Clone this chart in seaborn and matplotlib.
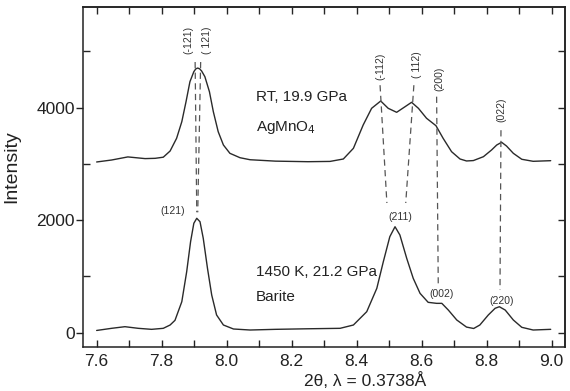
import numpy as np
import pandas as pd
import matplotlib
matplotlib.use("Agg")
import matplotlib.pyplot as plt
import seaborn as sns
from matplotlib.ticker import MultipleLocator, NullFormatter

# ---------------- data ----------------
agmno4_x = [7.600, 7.646, 7.696, 7.749, 7.780, 7.805, 7.826, 7.846, 7.862, 7.875,
            7.887, 7.899, 7.905, 7.911, 7.917, 7.923, 7.933, 7.947, 7.959, 7.974,
            7.990, 8.010, 8.041, 8.072, 8.150, 8.250, 8.318, 8.359, 8.390, 8.420,
            8.446, 8.474, 8.497, 8.523, 8.549, 8.569, 8.590, 8.615, 8.644, 8.666,
            8.692, 8.718, 8.738, 8.759, 8.790, 8.815, 8.831, 8.846, 8.861, 8.882,
            8.908, 8.943, 8.997]
agmno4_y = [3035, 3070, 3125, 3095, 3100, 3120, 3230, 3456, 3751, 4107,
            4462, 4640, 4690, 4705, 4690, 4652, 4551, 4284, 3929, 3573,
            3337, 3189, 3111, 3075, 3050, 3040, 3045, 3088, 3278, 3692,
            3989, 4119, 3989, 3918, 4018, 4096, 3989, 3812, 3680, 3456,
            3218, 3088, 3053, 3060, 3129, 3248, 3337, 3385, 3319, 3189,
            3083, 3047, 3058]

barite_x = [7.600, 7.646, 7.687, 7.728, 7.769, 7.805, 7.826, 7.841, 7.862, 7.877,
            7.889, 7.899, 7.908, 7.918, 7.928, 7.941, 7.954, 7.969, 7.990, 8.021,
            8.072, 8.150, 8.250, 8.349, 8.390, 8.431, 8.462, 8.482, 8.502, 8.518,
            8.533, 8.554, 8.574, 8.595, 8.620, 8.646, 8.662, 8.682, 8.708, 8.738,
            8.760, 8.779, 8.805, 8.826, 8.839, 8.857, 8.882, 8.908, 8.943, 8.997]
barite_y = [40, 78, 107, 78, 60, 78, 137, 220, 551, 1084,
            1618, 1945, 2034, 1973, 1678, 1145, 670, 315, 137, 66,
            48, 60, 70, 78, 137, 374, 789, 1262, 1707, 1884,
            1737, 1322, 967, 700, 540, 522, 522, 403, 226, 100,
            75, 137, 315, 434, 462, 403, 226, 96, 48, 60]

# reflection markers: label, label position (x, y), line top (x, y), line bottom (x, y)
upper_labels = ["(-121)", "( 121)", "(-112)", "( 112)", "(200)", "(022)"]
upper_label_x = [7.881, 7.939, 8.472, 8.585, 8.654, 8.846]
upper_label_y = [5204, 5204, 4741, 4760, 4510, 3960]
line_x_top = [7.903, 7.920, 8.472, 8.576, 8.646, 8.844]
line_y_top = [4812, 4812, 4400, 4400, 4196, 3600]
line_x_bot = [7.908, 7.911, 8.493, 8.551, 8.651, 8.841]
line_y_bot = [2141, 2141, 2306, 2306, 878, 759]

lower_labels = ["(121)", "(211)", "(002)", "(220)"]
lower_label_x = [7.833, 8.533, 8.662, 8.846]
lower_label_y = [2169, 2062, 688, 569]

xticks = [7.6, 7.8, 8.0, 8.2, 8.4, 8.6, 8.8, 9.0]
yticks = [0, 2000, 4000]

# ---------------- plotting ----------------
sns.set_style("ticks")
plt.rcParams["font.family"] = ["Liberation Sans", "DejaVu Sans"]

fig = plt.figure(figsize=(5.70, 3.91), dpi=100)
ax = fig.add_axes([83 / 570, 1 - 347 / 391, (565 - 83) / 570, (347 - 7) / 391])

df = pd.concat([
    pd.DataFrame({"x": agmno4_x, "y": agmno4_y, "s": "AgMnO4"}),
    pd.DataFrame({"x": barite_x, "y": barite_y, "s": "Barite"}),
])
sns.lineplot(data=df, x="x", y="y", units="s", estimator=None, color="#2a2a2a",
             lw=1.0, ax=ax, legend=False, sort=False)

for xt, yt, xb, yb in zip(line_x_top, line_y_top, line_x_bot, line_y_bot):
    ax.plot([xt, xb], [yt, yb], ls=(0, (5, 3.5)), color="#555555", lw=0.9)

for lab, x, y in zip(upper_labels, upper_label_x, upper_label_y):
    ax.text(x, y, lab, rotation=90, ha="center", va="center", fontsize=7.5, color="#333333")
for lab, x, y in zip(lower_labels, lower_label_x, lower_label_y):
    ax.text(x, y, lab, ha="center", va="center", fontsize=7.5, color="#333333")

ax.text(8.090, 4190, "RT, 19.9 GPa", fontsize=11, va="center", ha="left", color="#222222")
ax.text(8.090, 3640, "AgMnO$_4$", fontsize=11, va="center", ha="left", color="#222222")
ax.text(8.090, 1079, "1450 K, 21.2 GPa", fontsize=11, va="center", ha="left", color="#222222")
ax.text(8.090, 635, "Barite", fontsize=11, va="center", ha="left", color="#222222")

ax.set_xlim(7.558, 9.041)
ax.set_ylim(-254, 5790)

ax.set_xticks(xticks)
ax.set_xticklabels([f"{v:.1f}" for v in xticks])
ax.xaxis.set_minor_locator(MultipleLocator(0.1))
ax.set_yticks(yticks)
ax.set_yticklabels([str(v) for v in yticks])
ax.yaxis.set_minor_locator(MultipleLocator(1000))

ax.tick_params(axis="x", which="both", direction="in", length=5, width=1, labelsize=12.5, pad=5, colors="#222222")
ax.tick_params(axis="y", which="major", direction="out", length=5, width=1, labelsize=12.5, pad=1, colors="#222222")
ax.tick_params(axis="y", which="minor", direction="in", length=5, width=1)

secx = ax.secondary_xaxis("top")
secx.xaxis.set_major_locator(MultipleLocator(0.1))
secx.xaxis.set_major_formatter(NullFormatter())
secx.tick_params(direction="in", length=5, width=1)
secy = ax.secondary_yaxis("right")
secy.yaxis.set_major_locator(MultipleLocator(1000))
secy.yaxis.set_major_formatter(NullFormatter())
secy.tick_params(direction="in", length=5, width=1)

for a in (ax, secx, secy):
    for sp in a.spines.values():
        sp.set_linewidth(1.1)
        sp.set_color("#222222")

ax.set_xlabel("2θ, λ = 0.3738Å", fontsize=12.5, color="#222222", labelpad=1)
ax.xaxis.set_label_coords(0.585, -0.073)
ax.set_ylabel("Intensity", fontsize=14, color="#222222", labelpad=2)
ax.yaxis.set_label_coords(-0.13, 0.53)

fig.savefig("out.png", dpi=100)
